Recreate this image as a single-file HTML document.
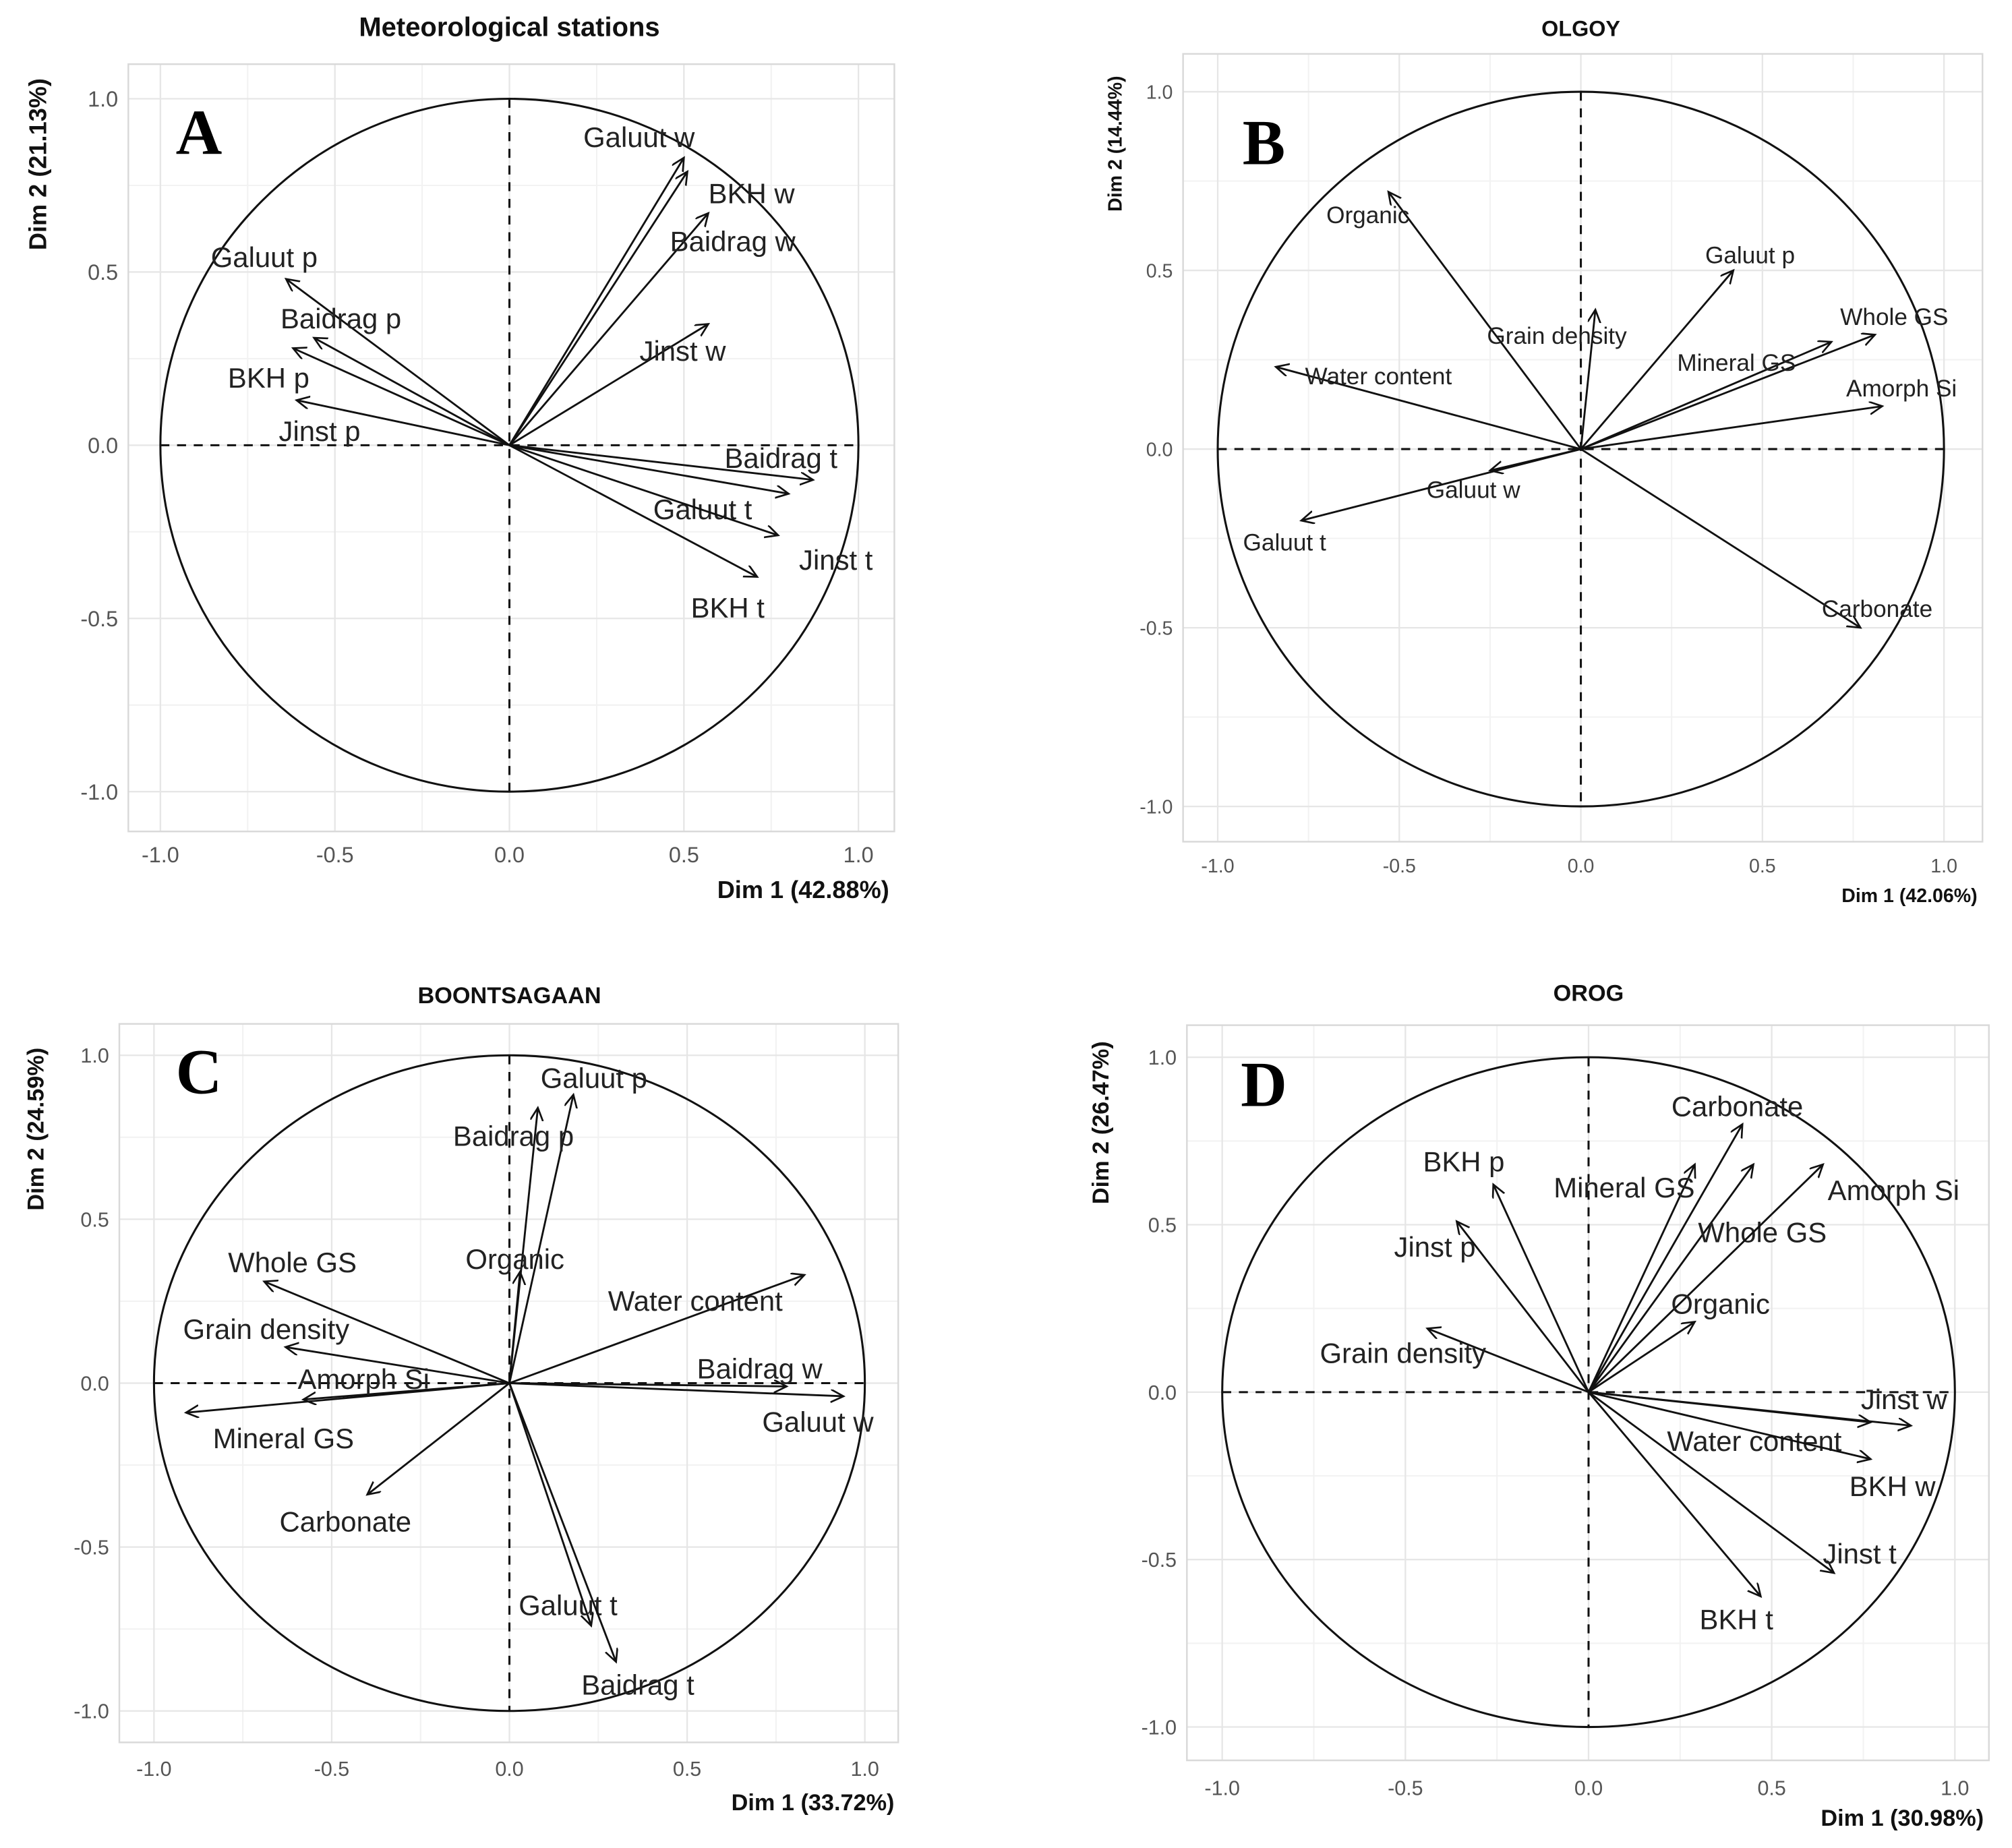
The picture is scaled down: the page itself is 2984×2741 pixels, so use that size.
<!DOCTYPE html>
<html><head><meta charset="utf-8"><style>
html,body{margin:0;padding:0;background:#fff;}
svg{display:block;}
text{font-family:"Liberation Sans",sans-serif;}
</style></head><body>
<svg id="fig" width="2984" height="2741" viewBox="0 0 1568 1440.3" preserveAspectRatio="none" xmlns="http://www.w3.org/2000/svg">
<defs><marker id="ah" markerWidth="12" markerHeight="12" refX="10" refY="5" orient="auto" markerUnits="userSpaceOnUse"><path d="M0,0 L10,5 L0,10" fill="none" stroke="#111" stroke-width="1.4"/></marker></defs>
</svg>
<script>
// ---- Panel A data ----
const aNames=["Galuut w","BKH w","Baidrag w","Jinst w","Galuut p","Baidrag p","BKH p","Jinst p","Baidrag t","Galuut t","Jinst t","BKH t"];
const aDim1=[0.50,0.51,0.57,0.57,-0.64,-0.56,-0.62,-0.61,0.87,0.80,0.77,0.71];
const aDim2=[0.83,0.79,0.67,0.35,0.48,0.31,0.28,0.13,-0.10,-0.14,-0.26,-0.38];
// ---- Panel B data ----
const bNames=["Organic","Galuut p","Grain density","Whole GS","Mineral GS","Amorph Si","Water content","Galuut w","Galuut t","Carbonate"];
const bDim1=[-0.53,0.42,0.04,0.81,0.69,0.83,-0.84,-0.25,-0.77,0.77];
const bDim2=[0.72,0.50,0.39,0.32,0.30,0.12,0.23,-0.06,-0.20,-0.50];
// ---- Panel C data ----
const cNames=["Galuut p","Baidrag p","Organic","Water content","Baidrag w","Galuut w","Whole GS","Grain density","Amorph Si","Mineral GS","Carbonate","Galuut t","Baidrag t"];
const cDim1=[0.18,0.08,0.03,0.83,0.78,0.94,-0.69,-0.63,-0.58,-0.91,-0.40,0.23,0.30];
const cDim2=[0.88,0.84,0.34,0.33,-0.01,-0.04,0.31,0.11,-0.05,-0.09,-0.34,-0.74,-0.85];
// ---- Panel D data ----
const dNames=["Carbonate","BKH p","Mineral GS","Whole GS","Amorph Si","Jinst p","Organic","Grain density","Jinst w","Water content","BKH w","Jinst t","BKH t"];
const dDim1=[0.42,-0.26,0.29,0.45,0.64,-0.36,0.29,-0.44,0.77,0.88,0.77,0.67,0.47];
const dDim2=[0.80,0.62,0.68,0.68,0.68,0.51,0.21,0.19,-0.09,-0.10,-0.20,-0.54,-0.61];
const ticks=[-1.0,-0.5,0.0,0.5,1.0];
const tickLabels=["-1.0","-0.5","0.0","0.5","1.0"];

// label offsets (layout only, px relative to arrow tip)
const aOff=[[-35,-16],[50,17],[19,22],[-20,21],[-17,-17],[21,-15],[-19,23],[18,24],[-25,-17],[-67,12],[45,19],[-23,24]];
const bOff=[[-16,18],[13,-12],[-30,20],[15,-14],[-74,16],[15,-14],[80,7],[-13,15],[-13,17],[13,-15]];
const cOff=[[16,-13],[-19,22],[-4,-10],[-85,20],[-21,-14],[-20,20],[22,-15],[-15,-14],[47,-16],[76,20],[-17,21],[-18,-16],[17,18]];
const dOff=[[-4,-14],[-23,-18],[-55,18],[7,53],[55,20],[-17,20],[20,-14],[-19,19],[26,-18],[-122,12],[17,21],[20,-15],[-19,18]];

const NS="http://www.w3.org/2000/svg";
const svg=document.getElementById('fig');
function el(tag,attrs,parent){const e=document.createElementNS(NS,tag);for(const k in attrs)e.setAttribute(k,attrs[k]);(parent||svg).appendChild(e);return e;}

const panels=[
 {id:"a",title:"Meteorological stations",letter:"A",names:aNames,x:aDim1,y:aDim2,off:aOff,cx:397,cy:347,sx:272,sy:270,box:[100,50,697,648],dim1:"Dim 1 (42.88%)",dim2:"Dim 2 (21.13%)",titleY:28,fs:22,tickFs:17,axFs:19,d1y:700,d2x:36,d2cy:128,d1x:693,tickY:672,letterPos:[155,120],titleFs:21},
 {id:"b",title:"OLGOY",letter:"B",names:bNames,x:bDim1,y:bDim2,off:bOff,cx:1232,cy:350,sx:283,sy:278.5,box:[922,42,1545,656],dim1:"Dim 1 (42.06%)",dim2:"Dim 2 (14.44%)",titleY:28,fs:18.5,tickFs:15,axFs:15,d1y:703,d2x:874,d2cy:112,d1x:1541,tickY:680,letterPos:[985,128],titleFs:17},
 {id:"c",title:"BOONTSAGAAN",letter:"C",names:cNames,x:cDim1,y:cDim2,off:cOff,cx:397,cy:1078,sx:277,sy:255.5,box:[93,798,700,1358],dim1:"Dim 1 (33.72%)",dim2:"Dim 2 (24.59%)",titleY:782,fs:22,tickFs:16,axFs:18,d1y:1411,d2x:34,d2cy:880,d1x:697,tickY:1384,letterPos:[155,852],titleFs:18},
 {id:"d",title:"OROG",letter:"D",names:dNames,x:dDim1,y:dDim2,off:dOff,cx:1238,cy:1085,sx:285.5,sy:261,box:[925,799,1550,1372],dim1:"Dim 1 (30.98%)",dim2:"Dim 2 (26.47%)",titleY:780,fs:22,tickFs:16,axFs:18,d1y:1423,d2x:864,d2cy:875,d1x:1546,tickY:1399,letterPos:[985,862],titleFs:18}
];

panels.forEach(p=>{
 const X=v=>p.cx+v*p.sx, Y=v=>p.cy-v*p.sy;
 const g=el('g',{});
 
 
 const [l,t,r,b]=p.box;
 // minor grid
 for(let v=-1.25;v<=1.26;v+=0.5){
  if(X(v)>l&&X(v)<r){const e=el('line',{x1:X(v),x2:X(v),y1:t,y2:b,stroke:'#f2f2f2','stroke-width':1},g);}
  if(Y(v)>t&&Y(v)<b){const e=el('line',{x1:l,x2:r,y1:Y(v),y2:Y(v),stroke:'#f2f2f2','stroke-width':1},g);}
 }
 for(let v=-0.75;v<=0.76;v+=0.5){
  const e1=el('line',{x1:X(v),x2:X(v),y1:t,y2:b,stroke:'#f2f2f2','stroke-width':1},g);
  const e2=el('line',{x1:l,x2:r,y1:Y(v),y2:Y(v),stroke:'#f2f2f2','stroke-width':1},g);
 }
 ticks.forEach((v,i)=>{
  const gx=el('line',{x1:X(v),x2:X(v),y1:t,y2:b,stroke:'#e6e6e6','stroke-width':1.2},g);
  
  const gy=el('line',{x1:l,x2:r,y1:Y(v),y2:Y(v),stroke:'#e6e6e6','stroke-width':1.2},g);
  
  const tx=el('text',{x:X(v),y:p.tickY,'text-anchor':'middle','font-size':p.tickFs,fill:'#555'},g);tx.textContent=tickLabels[i];
  
  const ty=el('text',{x:l-8,y:Y(v)+p.tickFs*0.36,'text-anchor':'end','font-size':p.tickFs,fill:'#555'},g);ty.textContent=tickLabels[i];
  
 });
 const bx=el('rect',{x:l,y:t,width:r-l,height:b-t,fill:'none',stroke:'#d9d9d9','stroke-width':1.3},g);
 
 // circle
 const c=el('ellipse',{cx:p.cx,cy:p.cy,rx:p.sx,ry:p.sy,fill:'none',stroke:'#111','stroke-width':1.6},g);
 
 const h=el('line',{x1:X(-1),x2:X(1),y1:Y(0),y2:Y(0),stroke:'#111','stroke-width':1.6,'stroke-dasharray':'7,6'},g);
 
 const vl=el('line',{x1:X(0),x2:X(0),y1:Y(1),y2:Y(-1),stroke:'#111','stroke-width':1.6,'stroke-dasharray':'7,6'},g);
 
 // arrows
 p.names.forEach((n,i)=>{
  const a=el('line',{x1:X(0),y1:Y(0),x2:X(p.x[i]),y2:Y(p.y[i]),stroke:'#111','stroke-width':1.5,'marker-end':'url(#ah)'},g);
  
  
  const lt=el('text',{x:X(p.x[i])+p.off[i][0],y:Y(p.y[i])+p.off[i][1]+p.fs*0.35,'text-anchor':'middle','font-size':p.fs,fill:'#222'},g);
  lt.textContent=n;
  
  
 });
 const ti=el('text',{x:p.cx,y:p.titleY,'text-anchor':'middle','font-size':p.titleFs,'font-weight':'bold',fill:'#111'},g);
 ti.textContent=p.title;
 const d1=el('text',{x:p.d1x,y:p.d1y,'text-anchor':'end','font-size':p.axFs,'font-weight':'bold',fill:'#111'},g);
 d1.textContent=p.dim1;
 const d2=el('text',{x:p.d2x,y:p.d2cy,'text-anchor':'middle','font-size':p.axFs,'font-weight':'bold',fill:'#111',transform:`rotate(-90 ${p.d2x} ${p.d2cy})`},g);
 d2.textContent=p.dim2;
 const le=el('text',{x:p.letterPos[0],y:p.letterPos[1],'text-anchor':'middle','font-size':50,'font-weight':'bold','font-family':'Liberation Serif, serif',fill:'#000'},g);
 le.style.fontFamily='"Liberation Serif",serif';
 le.textContent=p.letter;
});
</script>
</body></html>
